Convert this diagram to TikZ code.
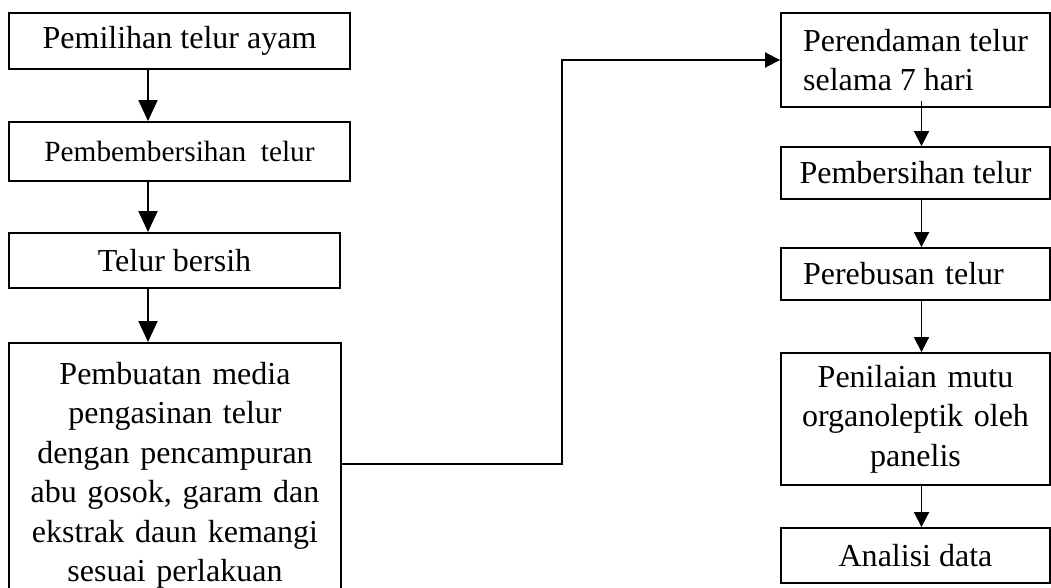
\documentclass[tikz,border=0pt]{standalone}
\usepackage{fontspec}
\setmainfont{Liberation Serif}
\usetikzlibrary{arrows.meta}

\begin{document}
\begin{tikzpicture}[x=1pt,y=-1pt,
  kotak/.style={draw,line width=1.9pt,inner sep=0pt,font=\fontsize{32}{39.5}\selectfont},
  panah/.style={line width=1.9pt,-{Triangle[length=21pt,width=19pt]}},
  panahk/.style={line width=1.9pt,-{Triangle[length=15pt,width=15pt]}}]
  \useasboundingbox (0,0) rectangle (1051,588);
  \coordinate (kiri) at (148,0);
  \coordinate (kanan) at (921.5,0);
  \coordinate (belok) at (562,464);

  %kolom kiri
  \node[kotak,minimum width=341pt,minimum height=56pt] (pilih) at (179.5,41) {Pemilihan telur ayam};
  \node[kotak,minimum width=341pt,minimum height=59pt,font=\fontsize{29.3}{35}\selectfont] (bersih1) at (179.5,151.5) {Pembembersihan\ \ telur};
  \node[kotak,minimum width=331pt,minimum height=55pt] (telurbersih) at (174.5,260.5) {Telur bersih};
  \node[kotak,anchor=north,text width=332pt,align=center,inner ysep=19pt] (media) at (175,342)
    {Pembuatan media\\ pengasinan telur\\ dengan pencampuran\\ abu gosok, garam dan\\ ekstrak daun kemangi\\ sesuai perlakuan};

  %kolom kanan
  \node[kotak,minimum width=269pt,minimum height=94pt,align=left] (rendam) at (915.5,60)
    {Perendaman telur\\ selama 7 hari};
  \node[kotak,minimum width=269pt,minimum height=52pt] (bersih2) at (915.5,173) {Pembersihan telur};
  \node[kotak,minimum width=269pt,minimum height=52pt,inner xsep=22pt,text width=225pt,align=left] (rebus) at (915.5,274) {Perebusan telur};
  \node[kotak,minimum width=269pt,minimum height=132pt,text width=269pt,align=center] (nilai) at (915.5,419)
    {Penilaian mutu\\ organoleptik oleh\\ panelis};
  \node[kotak,minimum width=269pt,minimum height=55pt] (analisis) at (915.5,555.5) {Analisi data};

  %panah
  \draw[panah] (pilih.south -| kiri) -- (bersih1.north -| kiri);
  \draw[panah] (bersih1.south -| kiri) -- (telurbersih.north -| kiri);
  \draw[panah] (telurbersih.south -| kiri) -- (media.north -| kiri);
  \draw[panahk] (belok -| media.east) -- (belok) |- (rendam.west);
  \draw[panahk] ([yshift=7pt]rendam.south -| kanan) -- (bersih2.north -| kanan);
  \draw[panahk] (bersih2.south -| kanan) -- (rebus.north -| kanan);
  \draw[panahk] (rebus.south -| kanan) -- (nilai.north -| kanan);
  \draw[panahk] (nilai.south -| kanan) -- (analisis.north -| kanan);
\end{tikzpicture}
\end{document}
